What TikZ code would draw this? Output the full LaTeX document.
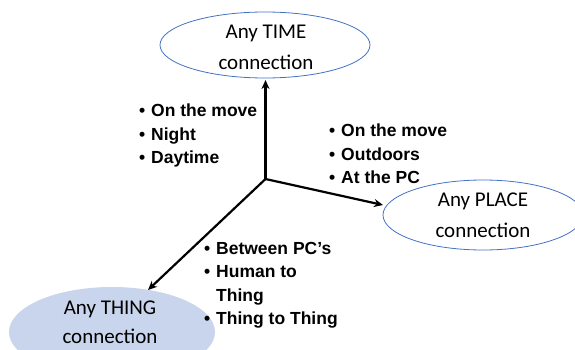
\documentclass[tikz,border=0pt]{standalone}
\usepackage{fontspec}
\setmainfont{Liberation Sans}
\newfontfamily\calib{Carlito}
\usetikzlibrary{shapes.geometric,arrows.meta}
\definecolor{ellblue}{HTML}{4472C4}
\definecolor{ellfill}{HTML}{C9D5EC}
\tikzset{
  conn/.style={ellipse, inner sep=0pt, font=\calib\fontsize{21}{31}\selectfont, align=center},
  arr/.style={line width=2.2pt, -{Stealth[length=9pt,width=8pt]}},
  blist/.style={inner sep=0pt, anchor=north west, font=\bfseries\fontsize{17.5}{23.5}\selectfont, align=left}
}
\newcommand{\bl}{\makebox[12pt][l]{\textbullet}}
\begin{document}
\begin{tikzpicture}[x=1pt,y=-1pt]
\useasboundingbox (0,0) rectangle (575,350);
\node[conn, draw=ellblue, line width=0.8pt, minimum width=210pt, minimum height=66pt] (time) at (265,45) {};
\node[font=\calib\fontsize{21}{31}\selectfont, align=center] (timetxt) at (266,47) {Any TIME\\connection};
\node[conn, draw=ellblue, line width=0.8pt, minimum width=200pt, minimum height=70pt] (place) at (483,215) {Any PLACE\\connection};
\node[conn, fill=ellfill, minimum width=206pt, minimum height=90pt] (thing) at (112,332) {};
\node[font=\calib\fontsize{21}{29}\selectfont, align=center] (thingtxt) at (110,322) {Any THING\\connection};
\coordinate (o) at (265.5,179);
\coordinate (ttime) at (265.5,80);
\coordinate (tplace) at (383,205);
\coordinate (tthing) at (148,290);
\draw[arr] (o) -- (ttime);
\draw[arr] (o) -- (tplace);
\draw[arr] (o) -- (tthing);
\node[blist] (l1) at (139,104) {\bl On the move\\\bl Night\\\bl Daytime};
\node[blist] (l2) at (329,124) {\bl On the move\\\bl Outdoors\\\bl At the PC};
\node[blist] (l3) at (204,242) {\bl Between PC’s\\\bl Human to\\\hspace*{12pt}Thing\\\bl Thing to Thing};
\end{tikzpicture}
\end{document}
